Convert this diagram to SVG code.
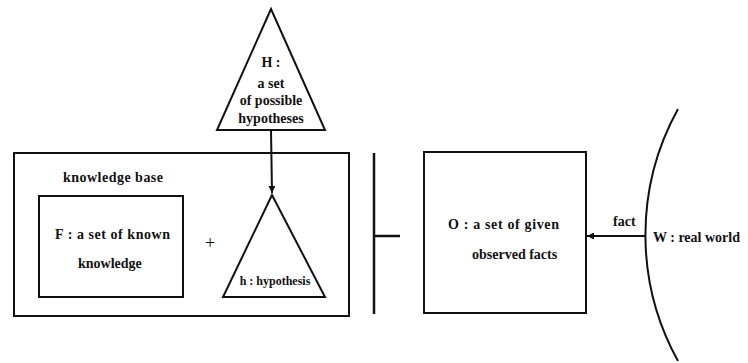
<svg xmlns="http://www.w3.org/2000/svg" width="748" height="363" viewBox="0 0 748 363">
<defs>
<style>
.ln{fill:none;stroke:#111;stroke-width:2}
.t{font-family:'Liberation Serif',serif;font-weight:bold;font-size:14px;fill:#111}
.m{text-anchor:middle}
</style>
<marker id="ah" viewBox="0 0 10 10" refX="10" refY="5" markerWidth="7" markerHeight="7" markerUnits="userSpaceOnUse" orient="auto">
<path d="M0,0 L10,5 L0,10 z" fill="#111"/>
</marker>
</defs>
<rect width="748" height="363" fill="#fff"/>
<g id="H">
<polygon class="ln" points="271,9 217,130 325,130"/>
<text class="t m" x="271" y="67">H :</text>
<text class="t m" x="271" y="88">a set</text>
<text class="t m" x="271" y="105">of possible</text>
<text class="t m" x="271" y="123">hypotheses</text>
</g>
<g id="KB">
<rect class="ln" x="14" y="153" width="335" height="163"/>
<text class="t" x="63" y="182" textLength="100">knowledge base</text>
</g>
<g id="F">
<rect class="ln" x="39" y="196" width="144" height="101"/>
<text class="t" x="55" y="239" textLength="115">F : a set of known</text>
<text class="t" x="78" y="268">knowledge</text>
</g>
<g id="plus">
<text class="t m" x="210" y="249" style="font-size:18px;font-weight:normal">+</text>
</g>
<g id="h">
<polygon class="ln" points="272,195 223,297 325,297"/>
<text class="t m" x="275" y="285" style="font-size:12px">h : hypothesis</text>
</g>
<g id="turnstile">
<path class="ln" d="M374,153 V314 M374,236 H400" style="stroke-width:2.5"/>
</g>
<g id="O">
<rect class="ln" x="424" y="152" width="162" height="161"/>
<text class="t" x="448" y="229" textLength="111">O : a set of given</text>
<text class="t" x="472" y="259">observed facts</text>
</g>
<g id="W">
<path class="ln" d="M678,109 A260,260 0 0,0 678,361"/>
<text class="t" x="653" y="242">W : real world</text>
</g>
<g id="connectors">
<line class="ln" x1="271" y1="130" x2="272" y2="193" marker-end="url(#ah)"/>
<line class="ln" x1="646" y1="236" x2="587" y2="236" marker-end="url(#ah)"/>
<text class="t" x="613" y="226">fact</text>
</g>
</svg>
